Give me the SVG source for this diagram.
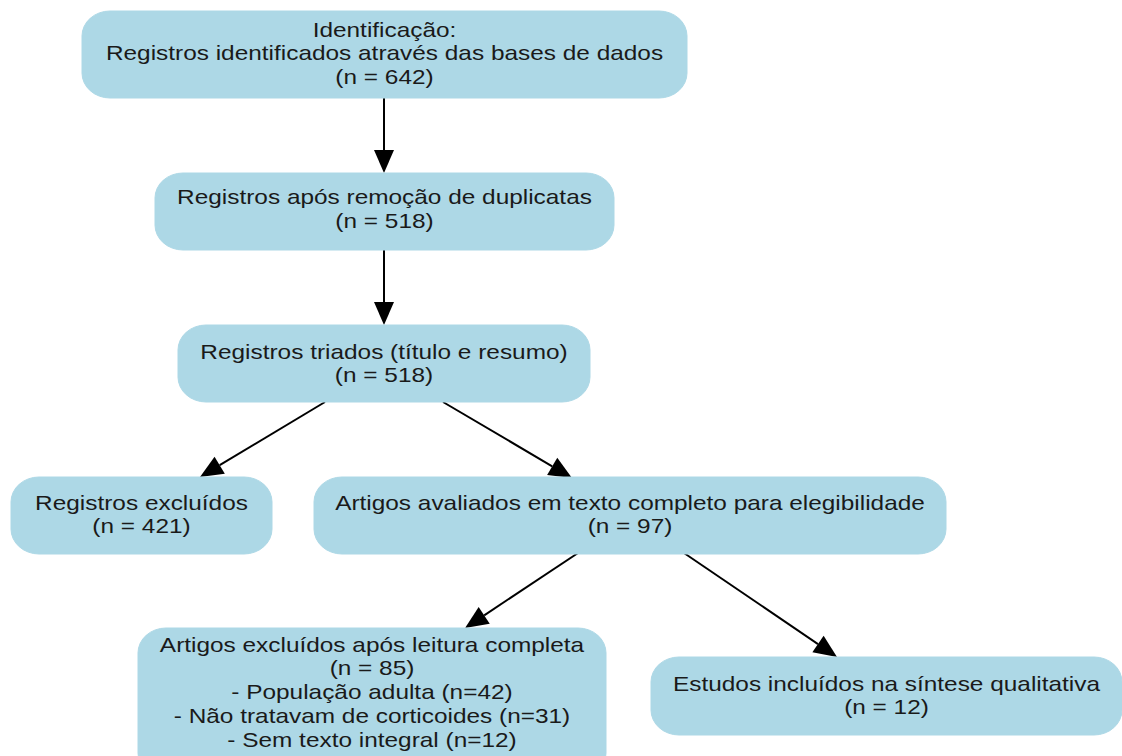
<svg xmlns="http://www.w3.org/2000/svg" width="1122" height="756" viewBox="0 0 1122 756">
<style>
.box{fill:#ADD8E6;stroke:#ADD8E6;stroke-width:1}
.lbl{font-family:"Liberation Sans",Arial,sans-serif;font-size:20px;fill:#1a1a1a;text-anchor:middle}
.edge{stroke:#000;stroke-width:2;fill:none}
</style>
<defs>
<marker id="ah" markerUnits="userSpaceOnUse" markerWidth="24" markerHeight="22" refX="0" refY="10" orient="auto" overflow="visible">
<path d="M0,0 L23,10 L0,20 Z" fill="#000"/>
</marker>
</defs>
<rect width="1122" height="756" fill="#fff"/>
<g id="connectors">
<line class="edge" x1="384" y1="98" x2="384" y2="150" marker-end="url(#ah)"/>
<line class="edge" x1="384" y1="250" x2="384" y2="302" marker-end="url(#ah)"/>
<line class="edge" x1="325" y1="402" x2="219.7" y2="465.2" marker-end="url(#ah)"/>
<line class="edge" x1="443" y1="402" x2="552.2" y2="466.3" marker-end="url(#ah)"/>
<line class="edge" x1="578" y1="553" x2="484.2" y2="615.3" marker-end="url(#ah)"/>
<line class="edge" x1="684" y1="553" x2="818" y2="644.1" marker-end="url(#ah)"/>
</g>
<g id="n1">
<rect class="box" x="82" y="11" width="605" height="87" rx="28" ry="25"/>
<g class="lbl" transform="translate(384.5,0) scale(1.22,1)">
<text class="lbl" x="0" y="37">Identificação:</text>
<text class="lbl" x="0" y="60">Registros identificados através das bases de dados</text>
<text class="lbl" x="0" y="84">(n = 642)</text>
</g>
</g>
<g id="n2">
<rect class="box" x="155" y="173" width="459" height="77" rx="28" ry="25"/>
<g transform="translate(384.5,0) scale(1.22,1)">
<text class="lbl" x="0" y="204">Registros após remoção de duplicatas</text>
<text class="lbl" x="0" y="228">(n = 518)</text>
</g>
</g>
<g id="n3">
<rect class="box" x="178" y="325" width="412" height="77" rx="28" ry="25"/>
<g transform="translate(384,0) scale(1.22,1)">
<text class="lbl" x="0" y="359">Registros triados (título e resumo)</text>
<text class="lbl" x="0" y="382">(n = 518)</text>
</g>
</g>
<g id="n4">
<rect class="box" x="11" y="477" width="261" height="77" rx="28" ry="25"/>
<g transform="translate(141.5,0) scale(1.22,1)">
<text class="lbl" x="0" y="510">Registros excluídos</text>
<text class="lbl" x="0" y="533">(n = 421)</text>
</g>
</g>
<g id="n5">
<rect class="box" x="314" y="477" width="632" height="77" rx="28" ry="25"/>
<g transform="translate(630,0) scale(1.22,1)">
<text class="lbl" x="0" y="510">Artigos avaliados em texto completo para elegibilidade</text>
<text class="lbl" x="0" y="533">(n = 97)</text>
</g>
</g>
<g id="n6">
<rect class="box" x="138" y="628" width="468" height="150" rx="28" ry="25"/>
<g transform="translate(372,0) scale(1.22,1)">
<text class="lbl" x="0" y="652">Artigos excluídos após leitura completa</text>
<text class="lbl" x="0" y="675">(n = 85)</text>
<text class="lbl" x="0" y="699">- População adulta (n=42)</text>
<text class="lbl" x="0" y="723">- Não tratavam de corticoides (n=31)</text>
<text class="lbl" x="0" y="747">- Sem texto integral (n=12)</text>
</g>
</g>
<g id="n7">
<rect class="box" x="651" y="657" width="471" height="78" rx="28" ry="25"/>
<g transform="translate(886.5,0) scale(1.22,1)">
<text class="lbl" x="0" y="691">Estudos incluídos na síntese qualitativa</text>
<text class="lbl" x="0" y="714">(n = 12)</text>
</g>
</g>
</svg>
